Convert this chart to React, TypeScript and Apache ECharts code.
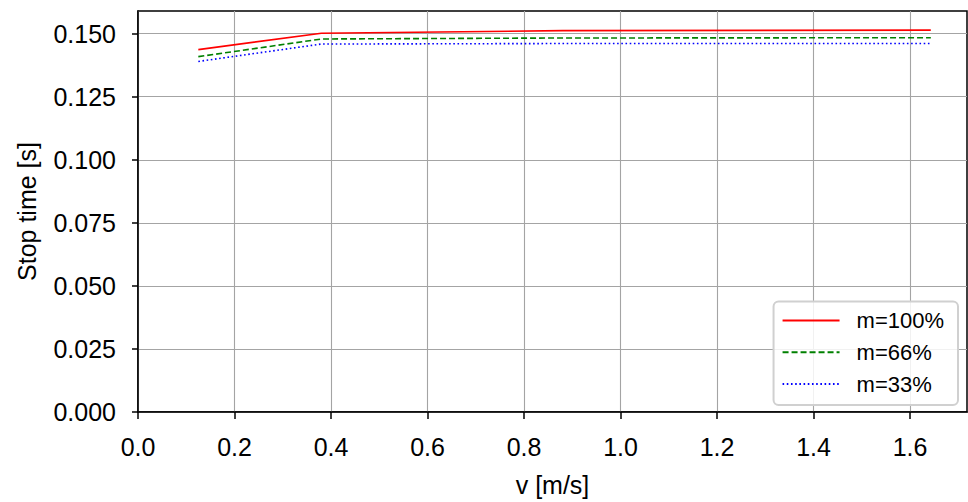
import React, { useEffect, useRef } from "react";
import * as echarts from "echarts";

const velocity = [0.125, 0.38, 0.88, 1.643];
const seriesNames = ["m=100%", "m=66%", "m=33%"];
const stop100 = [0.1437, 0.1502, 0.1512, 0.1514];
const stop66 = [0.1409, 0.1479, 0.1483, 0.1484];
const stop33 = [0.139, 0.1459, 0.1461, 0.1461];
const xTicks = [0, 0.2, 0.4, 0.6, 0.8, 1.0, 1.2, 1.4, 1.6];
const yTicks = [0, 0.025, 0.05, 0.075, 0.1, 0.125, 0.15];

const FONT = "Liberation Sans, Arial, sans-serif";

export default function App() {
  const ref = useRef<HTMLDivElement>(null);
  useEffect(() => {
    if (!ref.current) return;
    const chart = echarts.init(ref.current, undefined, { renderer: "svg" });
    const pairs = (ys: number[]) => velocity.map((v, i) => [v, ys[i]]);
    const axisCommon = {
      axisLine: { show: true, onZero: false, lineStyle: { color: "#000", width: 1.5 } },
      axisTick: { show: true, length: 7, lineStyle: { color: "#000", width: 1.5 } },
      splitLine: { show: true, lineStyle: { color: "#a4a4a4", width: 1.1 } },
      nameTextStyle: { fontFamily: FONT, fontSize: 25, color: "#000" },
    };
    chart.setOption({
      animation: false,
      backgroundColor: "#fff",
      grid: {
        left: 138,
        right: 1,
        top: 11,
        bottom: 87,
        show: true,
        borderColor: "#000",
        borderWidth: 1.5,
        backgroundColor: "transparent",
      },
      xAxis: {
        type: "value",
        min: 0,
        max: 1.718,
        interval: 0.2,
        name: "v [m/s]",
        nameLocation: "middle",
        nameGap: 60,
        ...axisCommon,
        axisTick: { ...axisCommon.axisTick, customValues: xTicks },
        axisLabel: {
          customValues: xTicks,
          margin: 22,
          fontFamily: FONT,
          fontSize: 25,
          color: "#000",
          formatter: (v: number) => v.toFixed(1),
        },
      },
      yAxis: {
        type: "value",
        min: 0,
        max: 0.159,
        interval: 0.025,
        name: "Stop time [s]",
        nameLocation: "middle",
        nameGap: 99,
        ...axisCommon,
        axisTick: { ...axisCommon.axisTick, length: 6, customValues: yTicks },
        axisLabel: {
          customValues: yTicks,
          margin: 22,
          fontFamily: FONT,
          fontSize: 25,
          color: "#000",
          formatter: (v: number) => v.toFixed(3),
        },
      },
      legend: {
        orient: "vertical",
        right: 10,
        bottom: 97,
        data: seriesNames,
        itemWidth: 57,
        itemHeight: 14,
        itemGap: 9.7,
        itemStyle: { opacity: 0 },
        padding: [8, 14, 10, 8],
        backgroundColor: "rgba(255,255,255,0.85)",
        borderColor: "#d0d0d0",
        borderWidth: 2,
        borderRadius: 5,
        textStyle: {
          fontFamily: FONT,
          fontSize: 22,
          lineHeight: 22,
          color: "#000",
          padding: [0, 0, 0, 12],
        },
      },
      series: [
        {
          name: seriesNames[0],
          type: "line",
          data: pairs(stop100),
          symbol: "none",
          lineStyle: { color: "#ff0000", width: 1.6, type: "solid" },
          itemStyle: { color: "#ff0000" },
        },
        {
          name: seriesNames[1],
          type: "line",
          data: pairs(stop66),
          symbol: "none",
          lineStyle: { color: "#008000", width: 1.6, type: [6, 3] },
          itemStyle: { color: "#008000" },
        },
        {
          name: seriesNames[2],
          type: "line",
          data: pairs(stop33),
          symbol: "none",
          lineStyle: { color: "#0000ff", width: 1.6, type: [1.6, 2.6] },
          itemStyle: { color: "#0000ff" },
        },
      ],
    });
    return () => chart.dispose();
  }, []);
  return (
    <div
      ref={ref}
      style={{ position: "fixed", left: 0, top: 0, width: 968, height: 502 }}
    />
  );
}
